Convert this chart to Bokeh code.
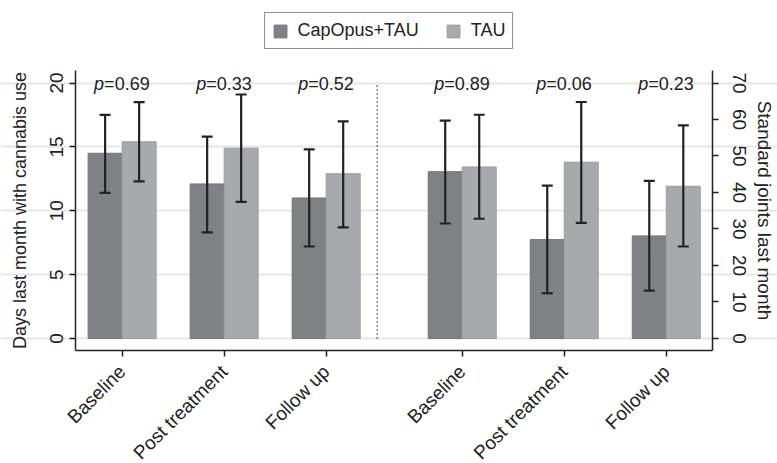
from bokeh.plotting import figure
from bokeh.models import (ColumnDataSource, Range1d, LinearAxis, FixedTicker,
                          Whisker, TeeHead, Legend, LegendItem)
from bokeh.core.properties import value
from bokeh.embed import file_html
from bokeh.resources import INLINE

# ---------------- data ----------------
timepoints = ["Baseline", "Post treatment", "Follow up"]

days_capopus = [14.5, 12.1, 11.0]
days_capopus_lo = [11.4, 8.3, 7.2]
days_capopus_hi = [17.5, 15.8, 14.8]
days_tau = [15.4, 14.9, 12.9]
days_tau_lo = [12.3, 10.7, 8.7]
days_tau_hi = [18.5, 19.1, 17.0]
days_p = ["0.69", "0.33", "0.52"]

joints_capopus = [45.7, 27.1, 28.1]
joints_capopus_lo = [31.5, 12.4, 13.1]
joints_capopus_hi = [59.7, 41.9, 43.2]
joints_tau = [47.0, 48.3, 41.7]
joints_tau_lo = [32.8, 31.7, 25.2]
joints_tau_hi = [61.3, 64.8, 58.4]
joints_p = ["0.89", "0.06", "0.23"]

left_ticks = [0, 5, 10, 15, 20]
right_ticks = [0, 10, 20, 30, 40, 50, 60, 70]

# ---------------- layout constants ----------------
FONT = "Liberation Sans"
DARK = "#808185"
LIGHT = "#a8a9ac"
INK = "#222222"
BAR_W = 1.0
left_pos = [0, 3, 6]
right_pos = [10, 13, 16]
divider_x = 7.5
scale = 3.5
x_axis_lo, x_axis_hi = -1.37, 17.36
x_lo, x_hi = -3.576, 19.27
y_axis_lo, y_axis_top = -0.94, 20.98
y_lo, y_hi = -9.79, 26.46
p_y = 19.9

p = figure(width=777, height=463, output_backend="svg", toolbar_location=None,
           title=None,
           x_range=Range1d(x_lo, x_hi), y_range=Range1d(y_lo, y_hi),
           min_border_left=0, min_border_right=0, min_border_top=0,
           min_border_bottom=0, y_axis_location=None, x_axis_location=None)
p.extra_y_ranges = {"right": Range1d(y_lo * scale, y_hi * scale)}
p.outline_line_color = None
p.background_fill_color = "white"
p.xgrid.visible = False
p.ygrid.ticker = FixedTicker(ticks=left_ticks)
p.ygrid.grid_line_color = "#e6e6e6"
p.ygrid.grid_line_width = 2
p.ygrid.bounds = (x_axis_lo, x_axis_hi)

def style_axis(ax, size="19px"):
    ax.axis_line_color = INK
    ax.axis_line_width = 1.5
    ax.major_tick_line_color = INK
    ax.major_tick_line_width = 1.5
    ax.major_tick_out = 6
    ax.major_tick_in = 0
    ax.minor_tick_line_color = None
    ax.major_label_text_font = FONT
    ax.major_label_text_font_size = size
    ax.major_label_text_color = INK
    ax.axis_label_text_font = FONT
    ax.axis_label_text_font_size = "18px"
    ax.axis_label_text_font_style = "normal"
    ax.axis_label_text_color = INK

yl = LinearAxis(ticker=FixedTicker(ticks=left_ticks),
                axis_label="Days last month with cannabis use",
                bounds=(y_axis_lo, y_axis_top), fixed_location=x_axis_lo)
style_axis(yl)
yl.major_label_orientation = "vertical"
yl.major_label_standoff = 7
yl.axis_label_standoff = 17
p.add_layout(yl, "left")

yr = LinearAxis(y_range_name="right", ticker=FixedTicker(ticks=right_ticks),
                axis_label="Standard joints last month",
                bounds=(y_axis_lo * scale, y_axis_top * scale),
                fixed_location=x_axis_hi)
style_axis(yr)
yr.major_label_orientation = "vertical"
yr.major_label_standoff = 14
yr.axis_label_standoff = 5
yr.axis_label_text_font_size = "19px"
p.add_layout(yr, "right")

xa = LinearAxis(ticker=FixedTicker(ticks=left_pos + right_pos),
                fixed_location=y_axis_lo, bounds=(x_axis_lo, x_axis_hi))
style_axis(xa)
xa.major_label_overrides = {pos: lab for pos, lab in
                            zip(left_pos + right_pos, timepoints + timepoints)}
xa.major_label_orientation = 0.785398
xa.major_label_standoff = 12
p.add_layout(xa, "below")

# ---------------- bars ----------------
def panel(pos, cap, cap_lo, cap_hi, tau, tau_lo, tau_hi, pv, rng):
    kw = {} if rng is None else {"y_range_name": rng}
    xd = [x - BAR_W / 2 for x in pos]
    xl = [x + BAR_W / 2 for x in pos]
    src_d = ColumnDataSource(dict(x=xd, top=cap, lo=cap_lo, hi=cap_hi))
    src_l = ColumnDataSource(dict(x=xl, top=tau, lo=tau_lo, hi=tau_hi))
    rd = p.vbar(x="x", top="top", bottom=0, width=BAR_W, source=src_d,
                fill_color=DARK, line_color="#75767a", line_width=1, **kw)
    rl = p.vbar(x="x", top="top", bottom=0, width=BAR_W, source=src_l,
                fill_color=LIGHT, line_color="#9c9da0", line_width=1, **kw)
    for src in (src_d, src_l):
        w = Whisker(base="x", lower="lo", upper="hi", source=src,
                    line_color=INK, line_width=2.2, level="overlay",
                    upper_head=TeeHead(size=11, line_color=INK, line_width=2.2),
                    lower_head=TeeHead(size=11, line_color=INK, line_width=2.2),
                    **kw)
        p.add_layout(w)
    tsrc = ColumnDataSource(dict(x=pos, y=[p_y] * len(pos), t=["=" + v for v in pv],
                                 pp=["p"] * len(pos)))
    p.text(x="x", y="y", text="pp", source=tsrc, text_font=value(FONT),
           text_font_size="18px", text_font_style="italic", text_align="right",
           text_baseline="middle", x_offset=-18, text_color=INK)
    p.text(x="x", y="y", text="t", source=tsrc, text_font=value(FONT),
           text_font_size="18px", text_align="left", text_baseline="middle",
           x_offset=-18, text_color=INK)
    return rd, rl

rd, rl = panel(left_pos, days_capopus, days_capopus_lo, days_capopus_hi,
               days_tau, days_tau_lo, days_tau_hi, days_p, None)
panel(right_pos, joints_capopus, joints_capopus_lo, joints_capopus_hi,
      joints_tau, joints_tau_lo, joints_tau_hi, joints_p, "right")

p.segment(x0=divider_x, y0=0, x1=divider_x, y1=20, line_color=INK,
          line_width=1.6, line_dash="1 3")

legend = Legend(items=[LegendItem(label="CapOpus+TAU", renderers=[rd]),
                       LegendItem(label="TAU", renderers=[rl])],
                orientation="horizontal", location="top_center")
legend.label_text_font = FONT
legend.label_text_font_size = "18px"
legend.label_text_color = INK
legend.glyph_width = 16
legend.glyph_height = 16
legend.label_standoff = 10
legend.spacing = 26
legend.padding = 7
legend.margin = 12
legend.border_line_color = INK
legend.border_line_width = 1.5
legend.background_fill_alpha = 1
p.add_layout(legend, "center")

open("out.html", "w").write(file_html(p, INLINE))
